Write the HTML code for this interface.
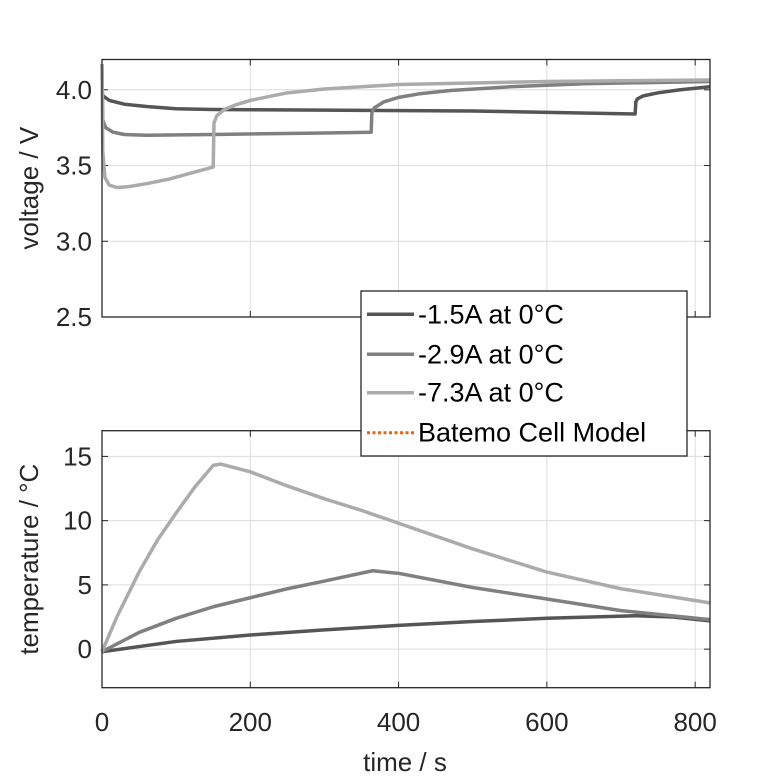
<!DOCTYPE html>
<html><head><meta charset="utf-8"><style>
body{margin:0;background:#fff}
svg{display:block;font-family:"Liberation Sans",sans-serif}
</style></head><body>
<svg id="c" width="781" height="781" viewBox="0 0 781 781"></svg>
<script>
const timeTicks=[0,200,400,600,800];
const vTicks=[2.5,3.0,3.5,4.0];
const tTicks=[0,5,10,15];
const seriesNames=["-1.5A at 0°C","-2.9A at 0°C","-7.3A at 0°C"];
const seriesColors=["#555555","#808080","#ababab"];
// voltage [t, V]
const v15=[[0,4.0],[1,3.96],[10,3.93],[30,3.905],[60,3.89],[100,3.875],[150,3.87],[300,3.866],[500,3.86],[719,3.84],[720,3.92],[722,3.94],[730,3.96],[750,3.98],[780,4.0],[820,4.02]];
const v29=[[0,4.17],[1,3.8],[5,3.75],[15,3.72],[30,3.705],[60,3.70],[150,3.705],[300,3.715],[363,3.72],[364,3.85],[367,3.88],[380,3.92],[400,3.95],[430,3.975],[470,3.995],[550,4.02],[650,4.04],[820,4.055]];
const v73=[[0,4.17],[1,3.6],[4,3.42],[10,3.37],[20,3.355],[35,3.36],[60,3.38],[90,3.41],[120,3.45],[150,3.49],[151,3.78],[155,3.83],[165,3.87],[180,3.90],[200,3.93],[250,3.98],[300,4.005],[350,4.02],[400,4.035],[600,4.055],[820,4.065]];
// temperature [t, degC]
const t15=[[0,-0.2],[100,0.6],[200,1.1],[300,1.5],[400,1.85],[500,2.15],[600,2.4],[720,2.6],[770,2.5],[820,2.2]];
const t29=[[0,-0.2],[50,1.3],[100,2.4],[150,3.3],[200,4.0],[250,4.7],[300,5.3],[365,6.1],[400,5.9],[500,4.8],[600,3.9],[700,3.0],[820,2.3]];
const t73=[[0,-0.2],[20,2.5],[50,6.0],[75,8.5],[100,10.6],[125,12.6],[150,14.3],[160,14.4],[200,13.8],[250,12.7],[300,11.7],[350,10.8],[400,9.8],[500,7.8],[600,6.0],[700,4.7],[820,3.6]];

const NS="http://www.w3.org/2000/svg";
const svg=document.getElementById('c');
function el(t,a,p){const e=document.createElementNS(NS,t);for(const k in a)e.setAttribute(k,a[k]);(p||svg).appendChild(e);return e;}
const X0=102,X1=710,XMAX=820;
const xs=t=>X0+t/XMAX*(X1-X0);
function makeAxes(top,bot,ymin,ymax,ticks,fmt,label,name,datas){
  const ys=v=>bot-(v-ymin)/(ymax-ymin)*(bot-top);
  const g=el('g',{});
  
  
  timeTicks.forEach(t=>{const l=el('line',{x1:xs(t),x2:xs(t),y1:top,y2:bot,stroke:'#dcdcdc','stroke-width':1},g);
    });
  ticks.forEach(v=>{const l=el('line',{x1:X0,x2:X1,y1:ys(v),y2:ys(v),stroke:'#dcdcdc','stroke-width':1},g);
    
    const tx=el('text',{x:X0-10,y:ys(v)+9,'text-anchor':'end','font-size':26,fill:'#262626'},g);tx.textContent=fmt(v);
    
    el('line',{x1:X0,x2:X0+6,y1:ys(v),y2:ys(v),stroke:'#262626'},g);el('line',{x1:X1,x2:X1-6,y1:ys(v),y2:ys(v),stroke:'#262626'},g);});
  timeTicks.forEach(t=>{el('line',{x1:xs(t),x2:xs(t),y1:bot,y2:bot-6,stroke:'#262626'},g);el('line',{x1:xs(t),x2:xs(t),y1:top,y2:top+6,stroke:'#262626'},g);});
  datas.forEach((d,i)=>{const p=el('polyline',{points:d.map(q=>xs(q[0])+','+ys(q[1])).join(' '),fill:'none',stroke:seriesColors[i],'stroke-width':3.5,'stroke-linejoin':'round'},g);
    });
  const r=el('rect',{x:X0,y:top,width:X1-X0,height:bot-top,fill:'none',stroke:'#262626','stroke-width':1.3},g);
  
  const cy=(top+bot)/2;
  const yl=el('text',{x:0,y:0,transform:`translate(38,${cy}) rotate(-90)`,'text-anchor':'middle','font-size':26,fill:'#262626'},g);
  yl.textContent=label;
}
makeAxes(59.5,317,2.5,4.2,vTicks,v=>v.toFixed(1),'voltage / V','voltage-plot',[v15,v29,v73]);
makeAxes(430.7,687.7,-3,17,tTicks,v=>String(v),'temperature / °C','temperature-plot',[t15,t29,t73]);
timeTicks.forEach(t=>{const tx=el('text',{x:xs(t),y:731,'text-anchor':'middle','font-size':26,fill:'#262626'});tx.textContent=t;
  });
const xl=el('text',{x:405,y:771,'text-anchor':'middle','font-size':26,fill:'#262626'});xl.textContent='time / s';

// legend
const lg=el('g',{});


el('rect',{x:361,y:291,width:326,height:165,fill:'#fff',stroke:'#262626','stroke-width':1.3},lg);
const rows=[314.3,354.3,392.7,432.7];
seriesNames.concat(['Batemo Cell Model']).forEach((n,i)=>{
  const l=el('line',{x1:367,x2:414,y1:rows[i],y2:rows[i],stroke:i<3?seriesColors[i]:'#f06010','stroke-width':i<3?3.5:3,'stroke-dasharray':i<3?'none':'3,2.5'},lg);
  
  const t=el('text',{x:418,y:rows[i]+9,'font-size':27,fill:'#000'},lg);t.textContent=n;
  
});
</script>
</body></html>
